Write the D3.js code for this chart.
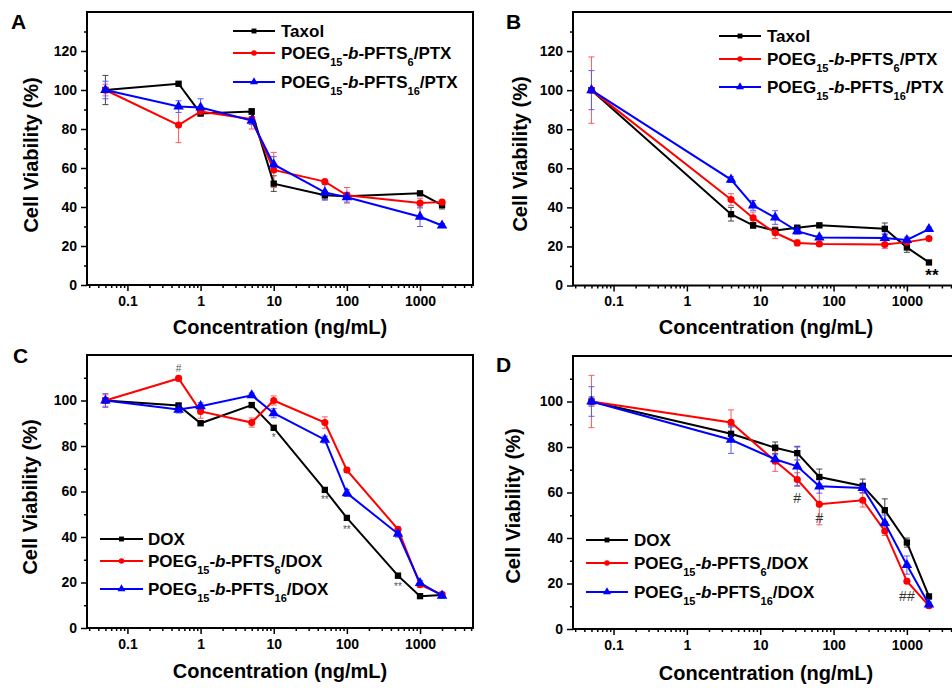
<!DOCTYPE html>
<html>
<head>
<meta charset="utf-8">
<script src="https://cdn.jsdelivr.net/npm/d3@7"></script>
<style>
  body { margin: 0; background: #fff; }
  svg { display: block; }
</style>
</head>
<body>
<svg width="952" height="688"></svg>
<script>
// ---- data ----
const xTicks = [0.1, 1, 10, 100, 1000];
const xTickLabels = ["0.1", "1", "10", "100", "1000"];

// panel A (PTX)
const concA = [0.05, 0.5, 1, 5, 10, 50, 100, 1000, 2000];
const taxolA = [100, 103.2, 88, 89, 52, 46, 45.5, 47, 41];
const taxolErrA = [7.5, 0.5, 1, 1.5, 4, 2, 1, 1, 2];
const ptx6A = [100, 82, 89, 85, 59, 53, 46, 42, 42.5];
const ptx6ErrA = [3, 9, 1, 5, 9, 1, 4, 2.5, 1];
const ptx16A = [100, 91.5, 91, 84.3, 61.8, 47.5, 45, 35, 30.5];
const ptx16ErrA = [4.5, 3, 4.5, 2, 4, 4, 2.5, 5, 1];

// panel B (PTX)
const concB = [0.05, 4, 8, 16, 32, 64, 500, 1000, 2000];
const taxolB = [100, 36.5, 30.8, 28.2, 29.6, 30.8, 29, 19.5, 11.8];
const taxolErrB = [1, 3.5, 1.5, 1, 1, 1, 3, 2.5, 1];
const ptx6B = [100, 44, 34.6, 27, 21.8, 21.3, 21, 22.2, 24];
const ptx6ErrB = [17, 3, 3, 3, 1.5, 1, 2, 1.5, 1];
const ptx16B = [100, 54.2, 41, 34.8, 27.8, 24.6, 24.3, 23.3, 28.9];
const ptx16ErrB = [10, 1.5, 2.5, 3.5, 1.5, 1, 2.5, 1.5, 1];

// panel C (DOX)
const concC = [0.05, 0.5, 1, 5, 10, 50, 100, 500, 1000, 2000];
const doxC = [100, 97.8, 90, 98, 88, 60.7, 48.4, 23, 14, 14.5];
const doxErrC = [1, 1, 1, 1, 1, 1, 1, 1, 1, 1];
const dox6C = [100, 109.7, 95.2, 90.3, 100, 90.3, 69.4, 43.4, 19, 14.7];
const dox6ErrC = [2.5, 1, 3, 2, 2, 2.5, 1, 1, 1, 1];
const dox16C = [100, 96, 97.5, 102.3, 94.4, 82.8, 59.3, 41.4, 19.8, 14.2];
const dox16ErrC = [3, 1.5, 1.5, 1, 2, 1.5, 1.5, 1.5, 1, 1];

// panel D (DOX)
const concD = [0.05, 4, 16, 32, 64, 250, 500, 1000, 2000];
const doxD = [100, 85.8, 79.7, 77.3, 66.8, 62.9, 52.2, 38, 14.3];
const doxErrD = [2, 3, 2.5, 3, 3.5, 3, 5, 2, 1];
const dox6D = [100, 90.8, 73.8, 65.7, 54.8, 56.6, 43.1, 21, 10.2];
const dox6ErrD = [11.5, 5.5, 4.5, 3, 9, 3, 2, 1, 1];
const dox16D = [100, 83.2, 74.6, 71.5, 62.7, 62, 46.6, 28.1, 10.8];
const dox16ErrD = [6.5, 6, 2, 8.5, 3, 2, 3.5, 4, 1];

// legend labels: [text, kind]
const labelTaxol = [["Taxol", ""]];
const labelPtx6 = [["POEG", ""], ["15", "sub"], ["-", ""], ["b", "it"], ["-PFTS", ""], ["6", "sub"], ["/PTX", ""]];
const labelPtx16 = [["POEG", ""], ["15", "sub"], ["-", ""], ["b", "it"], ["-PFTS", ""], ["16", "sub"], ["/PTX", ""]];
const labelDox = [["DOX", ""]];
const labelDox6 = [["POEG", ""], ["15", "sub"], ["-", ""], ["b", "it"], ["-PFTS", ""], ["6", "sub"], ["/DOX", ""]];
const labelDox16 = [["POEG", ""], ["15", "sub"], ["-", ""], ["b", "it"], ["-PFTS", ""], ["16", "sub"], ["/DOX", ""]];

// significance marks
const notesB = [{c: 2000, v: 5.5, t: "**"}];
const notesC = [
  {c: 0.5, v: 114, t: "#"}, {c: 10, v: 83.8, t: "*"}, {c: 50, v: 56.6, t: "**"},
  {c: 100, v: 43.4, t: "**"}, {c: 500, v: 18.2, t: "**"}
];
const notesD = [{c: 32, v: 57.4, t: "#"}, {c: 64, v: 48.7, t: "#"}, {c: 1000, v: 14.6, t: "##"}];

// ---- drawing ----
const FONT = '"Liberation Sans", Arial, sans-serif';
const svg = d3.select("svg");

const styles = {
  black: {stroke: "#000", err: "#444", sym: d3.symbolSquare, size: 40, lsize: 24},
  red: {stroke: "#ff0000", err: "#ff5a5a", sym: d3.symbolCircle, size: 40, lsize: 24},
  blue: {stroke: "#0000ff", err: "#5a5aff", sym: d3.symbolTriangle, size: 48, lsize: 28}
};

function drawPanel(p) {
  const x = d3.scaleLog().domain([0.028, 5300]).range([p.left, p.right]);
  const y = d3.scaleLinear().domain([0, p.yMax]).range([p.bottom, p.top]);
  const g = svg.append("g");

  const minorX = [];
  for (let e = -2; e <= 3; e++) {
    for (let m = 1; m <= 9; m++) {
      const v = m * Math.pow(10, e);
      if (v >= 0.028 && v <= 5300 && m !== 1) minorX.push(v);
    }
  }
  const styleAxis = a => {
    a.select(".domain").remove();
    a.selectAll(".tick line").attr("stroke-width", 1.5);
    a.selectAll("text").attr("font-family", FONT).attr("font-size", 14)
      .attr("font-weight", "bold").attr("fill", "#000");
  };

  g.append("g").attr("transform", "translate(0," + p.bottom + ")")
    .call(d3.axisBottom(x).tickValues(minorX).tickSize(3).tickFormat(""))
    .call(styleAxis);
  g.append("g").attr("transform", "translate(0," + p.bottom + ")")
    .call(d3.axisBottom(x).tickValues(xTicks).tickSize(6).tickPadding(5)
      .tickFormat((d, i) => xTickLabels[i]))
    .call(styleAxis);

  g.append("g").attr("transform", "translate(" + p.left + ",0)")
    .call(d3.axisLeft(y).tickValues(d3.range(10, p.yMax, 20)).tickSize(3).tickFormat(""))
    .call(styleAxis);
  g.append("g").attr("transform", "translate(" + p.left + ",0)")
    .call(d3.axisLeft(y).tickValues(d3.range(0, p.yLabelMax + 1, 20)).tickSize(6).tickPadding(4))
    .call(styleAxis);

  g.append("rect")
    .attr("x", p.left).attr("y", p.top)
    .attr("width", p.right - p.left).attr("height", p.bottom - p.top)
    .attr("fill", "none").attr("stroke", "#000").attr("stroke-width", 2);

  // error bars
  p.series.forEach(s => {
    const st = styles[s.color];
    const pts = s.conc.map((c, i) => ({c: c, v: s.vals[i], e: s.errs[i]}));
    const eb = g.append("g").attr("stroke", st.err).attr("stroke-width", 1);
    pts.forEach(d => {
      const cx = x(d.c);
      eb.append("line").attr("x1", cx).attr("x2", cx).attr("y1", y(d.v - d.e)).attr("y2", y(d.v + d.e));
      eb.append("line").attr("x1", cx - 3).attr("x2", cx + 3).attr("y1", y(d.v - d.e)).attr("y2", y(d.v - d.e));
      eb.append("line").attr("x1", cx - 3).attr("x2", cx + 3).attr("y1", y(d.v + d.e)).attr("y2", y(d.v + d.e));
    });
  });

  // lines + markers
  p.series.forEach(s => {
    const st = styles[s.color];
    const pts = s.conc.map((c, i) => ({c: c, v: s.vals[i]}));
    g.append("path")
      .datum(pts)
      .attr("fill", "none").attr("stroke", st.stroke).attr("stroke-width", 2)
      .attr("d", d3.line().x(d => x(d.c)).y(d => y(d.v)));
    g.selectAll(null).data(pts).enter().append("path")
      .attr("transform", d => "translate(" + x(d.c) + "," + y(d.v) + ")")
      .attr("d", d3.symbol(st.sym, st.size))
      .attr("fill", st.stroke);
  });

  // significance marks
  p.notes.forEach(n => {
    g.append("text")
      .attr("x", x(n.c) + (n.dx || 0)).attr("y", y(n.v))
      .attr("dy", "0.35em")
      .attr("text-anchor", "middle")
      .attr("font-family", FONT).attr("font-weight", p.noteWeight)
      .attr("font-size", p.noteSize).attr("fill", p.noteColor)
      .text(n.t);
  });

  // legend
  p.series.forEach((s, i) => {
    const st = styles[s.color];
    const ly = p.legend.rows[i];
    g.append("line")
      .attr("x1", p.legend.x1).attr("x2", p.legend.x2).attr("y1", ly).attr("y2", ly)
      .attr("stroke", st.stroke).attr("stroke-width", 2);
    g.append("path")
      .attr("transform", "translate(" + (p.legend.x1 + p.legend.x2) / 2 + "," + ly + ")")
      .attr("d", d3.symbol(st.sym, st.lsize)).attr("fill", st.stroke);
    const t = g.append("text")
      .attr("x", p.legend.tx).attr("y", ly + 6)
      .attr("font-family", FONT).attr("font-weight", "bold").attr("font-size", 17).attr("fill", "#000");
    let shifted = false;
    s.label.forEach(part => {
      const ts = t.append("tspan").text(part[0]);
      if (part[1] === "sub") {
        ts.attr("font-size", 11);
        if (!shifted) { ts.attr("dy", 7); shifted = true; }
      } else {
        if (shifted) { ts.attr("dy", -7); shifted = false; }
        if (part[1] === "it") ts.attr("font-style", "italic");
      }
    });
  });

  // titles
  g.append("text")
    .attr("x", p.xTitle[0]).attr("y", p.xTitle[1])
    .attr("text-anchor", "middle")
    .attr("font-family", FONT).attr("font-weight", "bold").attr("font-size", 20)
    .text("Concentration (ng/mL)");
  g.append("text")
    .attr("transform", "translate(" + p.yTitle[0] + "," + p.yTitle[1] + ") rotate(-90)")
    .attr("text-anchor", "middle")
    .attr("font-family", FONT).attr("font-weight", "bold").attr("font-size", 20)
    .text("Cell Viability (%)");
  g.append("text")
    .attr("x", p.letter[1]).attr("y", p.letter[2])
    .attr("font-family", FONT).attr("font-weight", "bold").attr("font-size", 21)
    .text(p.letter[0]);
}

drawPanel({
  left: 87, right: 473, top: 12, bottom: 285, yMax: 140, yLabelMax: 120,
  series: [
    {conc: concA, vals: taxolA, errs: taxolErrA, color: "black", label: labelTaxol},
    {conc: concA, vals: ptx6A, errs: ptx6ErrA, color: "red", label: labelPtx6},
    {conc: concA, vals: ptx16A, errs: ptx16ErrA, color: "blue", label: labelPtx16}
  ],
  notes: [],
  legend: {x1: 233, x2: 275, tx: 281, rows: [31, 53, 82]},
  xTitle: [280, 334], yTitle: [38, 155], letter: ["A", 11, 29]
});

drawPanel({
  left: 573, right: 960, top: 12, bottom: 285.5, yMax: 140, yLabelMax: 120,
  series: [
    {conc: concB, vals: taxolB, errs: taxolErrB, color: "black", label: labelTaxol},
    {conc: concB, vals: ptx6B, errs: ptx6ErrB, color: "red", label: labelPtx6},
    {conc: concB, vals: ptx16B, errs: ptx16ErrB, color: "blue", label: labelPtx16}
  ],
  notes: notesB.map(n => Object.assign({dx: 3}, n)), noteSize: 17, noteColor: "#000", noteWeight: "bold",
  legend: {x1: 719, x2: 761, tx: 767, rows: [36, 59, 87]},
  xTitle: [766, 334], yTitle: [527, 154], letter: ["B", 506, 29]
});

drawPanel({
  left: 87, right: 473, top: 355, bottom: 628, yMax: 120, yLabelMax: 100,
  series: [
    {conc: concC, vals: doxC, errs: doxErrC, color: "black", label: labelDox},
    {conc: concC, vals: dox6C, errs: dox6ErrC, color: "red", label: labelDox6},
    {conc: concC, vals: dox16C, errs: dox16ErrC, color: "blue", label: labelDox16}
  ],
  notes: notesC, noteSize: 10, noteColor: "#555", noteWeight: "normal",
  legend: {x1: 100, x2: 143, tx: 148, rows: [539, 561, 589]},
  xTitle: [280, 678], yTitle: [37, 497], letter: ["C", 13, 363]
});

drawPanel({
  left: 573, right: 960, top: 356, bottom: 629, yMax: 120, yLabelMax: 100,
  series: [
    {conc: concD, vals: doxD, errs: doxErrD, color: "black", label: labelDox},
    {conc: concD, vals: dox6D, errs: dox6ErrD, color: "red", label: labelDox6},
    {conc: concD, vals: dox16D, errs: dox16ErrD, color: "blue", label: labelDox16}
  ],
  notes: notesD, noteSize: 14, noteColor: "#333", noteWeight: "normal",
  legend: {x1: 586, x2: 628, tx: 634, rows: [540, 563, 592]},
  xTitle: [766, 680], yTitle: [520, 506], letter: ["D", 496, 372]
});
</script>
</body>
</html>
